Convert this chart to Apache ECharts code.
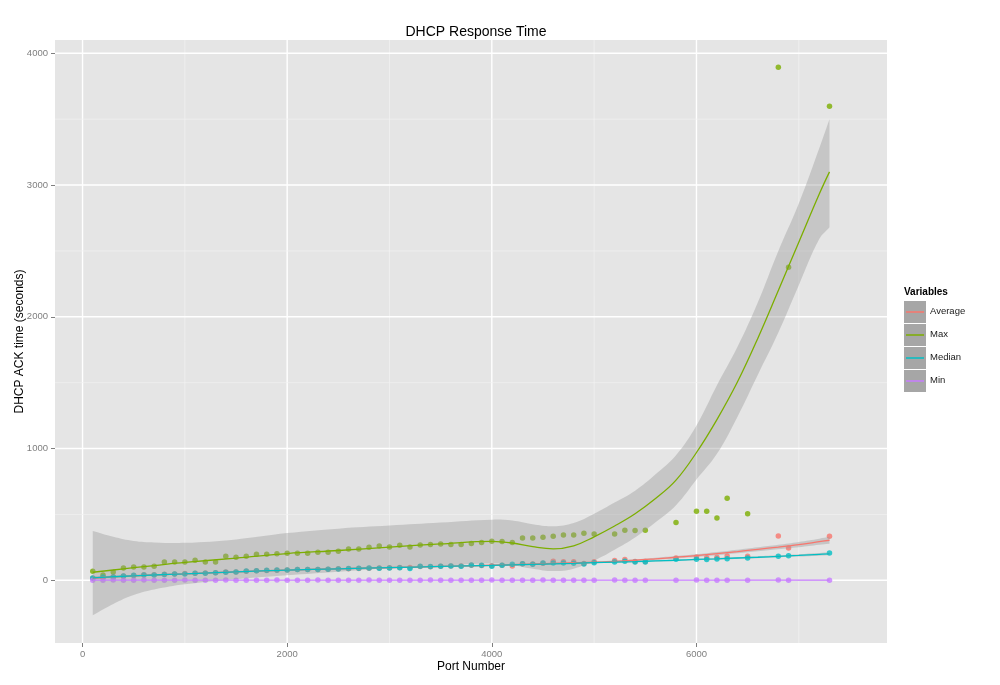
<!DOCTYPE html>
<html>
<head>
<meta charset="utf-8">
<title>DHCP Response Time</title>
<script src="https://cdn.jsdelivr.net/npm/echarts@6/dist/echarts.min.js"></script>
<style>
html, body { margin: 0; padding: 0; background: #fff; }
#chart { width: 1000px; height: 685px; }
</style>
</head>
<body>
<div id="chart"></div>
<script>
// port numbers that were measured
var ports = [100, 200, 300, 400, 500, 600, 700, 800, 900, 1000,
   1100, 1200, 1300, 1400, 1500, 1600, 1700, 1800, 1900, 2000,
   2100, 2200, 2300, 2400, 2500, 2600, 2700, 2800, 2900, 3000,
   3100, 3200, 3300, 3400, 3500, 3600, 3700, 3800, 3900, 4000,
   4100, 4200, 4300, 4400, 4500, 4600, 4700, 4800, 4900, 5000,
   5200, 5300, 5400, 5500, 5800, 6000, 6100, 6200, 6300, 6500, 6800, 6900, 7300];

var avgTime = [15, 22, 27, 33, 37, 42, 42, 45, 48, 52,
   53, 55, 57, 62, 63, 68, 72, 74, 77, 79,
   81, 82, 82, 84, 87, 88, 90, 92, 93, 95,
   97, 98, 104, 103, 107, 108, 108, 114, 113, 110,
   115, 108, 125, 124, 130, 144, 141, 141, 128, 140,
   150, 158, 143, 142, 169, 177, 172, 175, 185, 182, 336, 245, 334];

var maxTime = [68, 40, 63, 94, 101, 101, 106, 139, 139, 139,
   152, 139, 139, 182, 175, 182, 197, 197, 202, 205,
   205, 205, 212, 212, 220, 238, 238, 250, 261, 253,
   266, 253, 268, 271, 276, 271, 271, 280, 286, 296,
   294, 286, 321, 321, 327, 334, 344, 344, 357, 352,
   352, 380, 377, 380, 438, 524, 524, 473, 622, 506, 3894, 2376, 3598];

var medianTime = [18, 25, 25, 33, 38, 40, 40, 43, 48, 48,
   53, 53, 58, 61, 63, 71, 73, 76, 78, 78,
   81, 81, 81, 83, 86, 89, 91, 94, 91, 94,
   96, 89, 106, 104, 106, 109, 106, 116, 114, 106,
   114, 121, 126, 121, 131, 131, 131, 129, 124, 134,
   139, 144, 139, 139, 159, 159, 157, 162, 164, 169, 182, 187, 207];

var minTime = [1, 1, 2, 1, 1, 2, 1, 1, 1, 2,
   1, 1, 1, 2, 1, 1, 1, 1, 2, 1,
   1, 1, 2, 1, 1, 1, 1, 2, 1, 1,
   1, 1, 1, 2, 1, 1, 1, 1, 1, 2,
   1, 1, 1, 1, 2, 1, 1, 1, 1, 1,
   2, 1, 1, 1, 1, 2, 1, 1, 1, 1, 2, 1, 1];

// loess curves and their 95% bands
var smoothX = [100, 300, 500, 700, 1000, 1500, 2000, 2500, 3000, 3500, 4000, 4200, 4400, 4600,
   4800, 5000, 5200, 5400, 5600, 5800, 6000, 6200, 6400, 6600, 6800, 7000, 7200, 7300];

var avgFit = [17, 26, 34, 40, 49, 64, 77, 87, 96, 105, 114, 118, 123, 128,
   133, 137, 144, 152, 163, 175, 187, 202, 218, 235, 252, 271, 293, 304];
var avgHigh = [27, 34, 41, 46, 55, 70, 83, 93, 102, 111, 120, 124, 129, 134,
   139, 143, 151, 159, 171, 184, 197, 214, 231, 250, 269, 291, 316, 330];
var avgLow = [7, 18, 27, 34, 43, 58, 71, 81, 90, 99, 108, 112, 117, 122,
   127, 131, 137, 145, 155, 166, 177, 190, 205, 220, 235, 251, 270, 278];

var maxFit = [61, 78, 96, 112, 136, 168, 203, 226, 252, 276, 295, 283, 255, 239,
   262, 330, 412, 505, 620, 760, 970, 1220, 1505, 1838, 2200, 2566, 2932, 3100];
var maxHigh = [374, 330, 298, 287, 284, 310, 358, 392, 415, 438, 460, 453, 425, 410,
   435, 505, 590, 680, 805, 950, 1175, 1480, 1770, 2110, 2500, 2860, 3280, 3500];
var maxLow = [-266, -180, -112, -70, -30, 8, 38, 65, 92, 110, 127, 115, 88, 70,
   88, 150, 232, 325, 440, 570, 765, 960, 1240, 1560, 1880, 2240, 2590, 2680];

var medFit = [19, 27, 34, 40, 49, 64, 77, 87, 96, 105, 113, 117, 121, 125,
   129, 134, 138, 142, 147, 152, 158, 163, 169, 175, 182, 189, 197, 201];
var medHigh = [28, 34, 40, 45, 54, 69, 82, 92, 101, 110, 118, 122, 126, 130,
   134, 139, 143, 147, 152, 158, 164, 170, 176, 183, 190, 198, 207, 212];
var medLow = [10, 20, 28, 35, 44, 59, 72, 82, 91, 100, 108, 112, 116, 120,
   124, 129, 133, 137, 142, 146, 152, 156, 162, 167, 174, 180, 187, 190];

var minFit = [1.5, 1.5, 1.5, 1.5, 1.5, 1.5, 1.5, 1.5, 1.5, 1.5, 1.5, 1.5, 1.5, 1.5,
   1.5, 1.5, 1.5, 1.5, 1.5, 1.5, 1.5, 1.5, 1.5, 1.5, 1.5, 1.5, 1.5, 1.5];
var minHigh = [5, 4, 3.5, 3.5, 3, 3, 3, 3, 3, 3, 3, 3, 3, 3,
   3, 3, 3, 3, 3, 3, 3, 3, 3.5, 3.5, 3.5, 4, 4, 4.5];
var minLow = [-2, -1, -0.5, -0.5, 0, 0, 0, 0, 0, 0, 0, 0, 0, 0,
   0, 0, 0, 0, 0, 0, 0, 0, -0.5, -0.5, -0.5, -1, -1, -1.5];

var varNames = ["Average", "Max", "Median", "Min"];
var varColors = ["#F8766D", "#7CAE00", "#00BFC4", "#C77CFF"];

var xTicks = [0, 2000, 4000, 6000];
var xMinor = [1000, 3000, 5000, 7000];
var yTicks = [0, 1000, 2000, 3000, 4000];
var yMinor = [500, 1500, 2500, 3500];

var FONT = "'Liberation Sans', Arial, Helvetica, sans-serif";
var SMOOTH = 0.4;

function pairs(xs, ys) {
   return xs.map(function(x, i) { return [x, ys[i]]; });
}

// grey panel grid lines, drawn through the axes' own scales
var gridData = [];
xTicks.forEach(function(v) { gridData.push([0, v, 1]); });
xMinor.forEach(function(v) { gridData.push([0, v, 0]); });
yTicks.forEach(function(v) { gridData.push([1, v, 1]); });
yMinor.forEach(function(v) { gridData.push([1, v, 0]); });

function gridSeries() {
   return {
      type: "custom",
      silent: true,
      z: 1,
      data: gridData,
      renderItem: function(params, api) {
         let cs = params.coordSys;
         let isY = api.value(0) === 1;
         let v = api.value(1);
         let major = api.value(2) === 1;
         let shape;
         if (!isY) {
            let px = api.coord([v, 0])[0];
            shape = { x1: px, y1: cs.y, x2: px, y2: cs.y + cs.height };
         } else {
            let py = api.coord([0, v])[1];
            shape = { x1: cs.x, y1: py, x2: cs.x + cs.width, y2: py };
         }
         return {
            type: "line",
            shape: shape,
            style: { stroke: major ? "#FFFFFF" : "#F2F2F2", lineWidth: major ? 1.4 : 0.7 }
         };
      }
   };
}

// bezier path through pixel points, same kind of smoothing as the line series
function curvePath(pts, cmd) {
   let n = pts.length;
   let cps = [];
   for (let i = 0; i < n; i++) {
      let p = pts[i], prev = pts[i - 1] || p, next = pts[i + 1] || p;
      let vx = (next[0] - prev[0]) * SMOOTH, vy = (next[1] - prev[1]) * SMOOTH;
      let l0 = Math.hypot(p[0] - prev[0], p[1] - prev[1]);
      let l1 = Math.hypot(next[0] - p[0], next[1] - p[1]);
      let r = (l0 + l1) ? l1 / (l0 + l1) : 0.5;
      cps.push([p[0] - vx * (1 - r), p[1] - vy * (1 - r), p[0] + vx * r, p[1] + vy * r]);
   }
   let d = cmd + pts[0][0] + " " + pts[0][1];
   for (let i = 1; i < n; i++) {
      d += " C" + cps[i - 1][2] + " " + cps[i - 1][3] + " " + cps[i][0] + " " + cps[i][1] +
         " " + pts[i][0] + " " + pts[i][1];
   }
   return d;
}

function bandSeries(lo, hi) {
   return {
      type: "custom",
      silent: true,
      z: 3,
      data: [[smoothX[0], lo[0]]],
      renderItem: function(params, api) {
         let top = smoothX.map(function(x, i) { return api.coord([x, hi[i]]); });
         let bottom = smoothX.map(function(x, i) { return api.coord([x, lo[i]]); }).reverse();
         let d = curvePath(top, "M") + " " + curvePath(bottom, "L") + " Z";
         return { type: "path", shape: { pathData: d }, style: { fill: "rgba(153,153,153,0.4)" } };
      }
   };
}

function pointSeries(name, values, color) {
   return {
      type: "scatter",
      name: name,
      z: 2,
      symbol: "circle",
      symbolSize: 5.5,
      itemStyle: { color: color },
      data: pairs(ports, values)
   };
}

function fitSeries(fit, color) {
   return {
      type: "line",
      z: 3,
      smooth: SMOOTH,
      showSymbol: false,
      silent: true,
      lineStyle: { color: color, width: 1.3 },
      data: pairs(smoothX, fit)
   };
}

let series = [gridSeries()];
series.push(pointSeries("Average", avgTime, varColors[0]));
series.push(pointSeries("Max", maxTime, varColors[1]));
series.push(pointSeries("Median", medianTime, varColors[2]));
series.push(pointSeries("Min", minTime, varColors[3]));
series.push(bandSeries(avgLow, avgHigh));
series.push(fitSeries(avgFit, varColors[0]));
series.push(bandSeries(maxLow, maxHigh));
series.push(fitSeries(maxFit, varColors[1]));
series.push(bandSeries(medLow, medHigh));
series.push(fitSeries(medFit, varColors[2]));
series.push(bandSeries(minLow, minHigh));
series.push(fitSeries(minFit, varColors[3]));

// ggplot-style legend on the right
let legendItems = [{
   type: "text",
   left: 904,
   top: 287,
   style: { text: "Variables", font: "bold 10px " + FONT, fill: "#000" }
}];
varNames.forEach(function(name, i) {
   let y0 = 301 + i * 23;
   legendItems.push({ type: "rect", shape: { x: 904, y: y0, width: 22, height: 22 }, style: { fill: "#A6A6A6" } });
   legendItems.push({ type: "line", shape: { x1: 906, y1: y0 + 11, x2: 924, y2: y0 + 11 }, style: { stroke: varColors[i], lineWidth: 1.5 } });
   legendItems.push({ type: "text", left: 930, top: y0 + 5, style: { text: name, font: "9.5px " + FONT, fill: "#1A1A1A" } });
});

let plainLabel = function(v) { return String(v); };

let option = {
   animation: false,
   backgroundColor: "#FFFFFF",
   title: {
      text: "DHCP Response Time",
      left: 471,
      top: 20,
      textAlign: "center",
      textStyle: { fontFamily: FONT, fontSize: 14, fontWeight: "normal", color: "#000" }
   },
   grid: {
      left: 55, right: 113, top: 40, bottom: 42,
      show: true, backgroundColor: "#E5E5E5", borderWidth: 0,
      outerBoundsMode: "none"
   },
   xAxis: {
      type: "value",
      min: -269, max: 7862,
      name: "Port Number",
      nameLocation: "middle",
      nameGap: 18,
      nameMoveOverlap: false,
      nameTextStyle: { fontFamily: FONT, fontSize: 12, color: "#000" },
      axisLine: { show: false, onZero: false },
      axisTick: { show: true, customValues: xTicks, length: 4, lineStyle: { color: "#7F7F7F" } },
      axisLabel: { customValues: xTicks, formatter: plainLabel, margin: 6, fontFamily: FONT, fontSize: 9.5, color: "#7F7F7F" },
      splitLine: { show: false }
   },
   yAxis: {
      type: "value",
      min: -476, max: 4101,
      name: "DHCP ACK time (seconds)",
      nameLocation: "middle",
      nameGap: 29,
      nameMoveOverlap: false,
      nameTextStyle: { fontFamily: FONT, fontSize: 12, color: "#000" },
      axisLine: { show: false, onZero: false },
      axisTick: { show: true, customValues: yTicks, length: 4, lineStyle: { color: "#7F7F7F" } },
      axisLabel: { customValues: yTicks, formatter: plainLabel, margin: 7, fontFamily: FONT, fontSize: 9.5, color: "#7F7F7F" },
      splitLine: { show: false }
   },
   graphic: legendItems,
   series: series
};

let myChart = echarts.init(document.getElementById("chart"));
myChart.setOption(option);
</script>
</body>
</html>
